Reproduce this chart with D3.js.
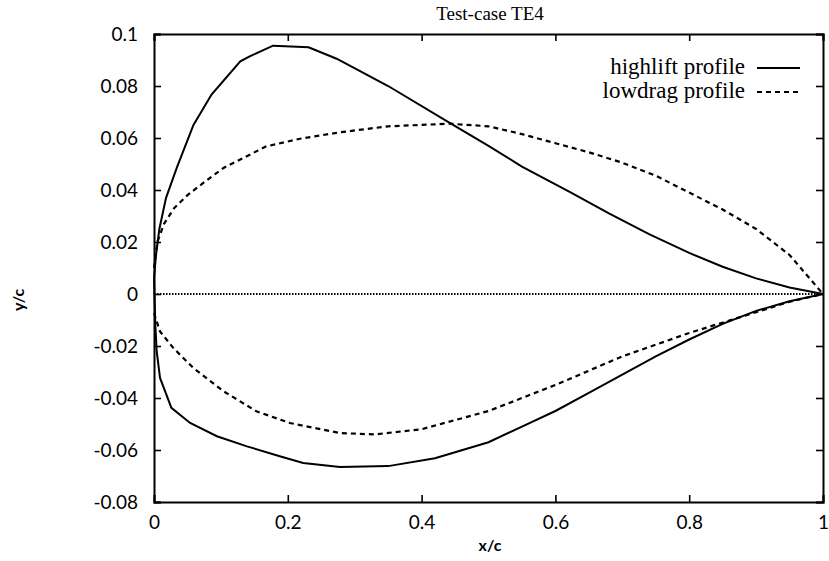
<!DOCTYPE html>
<html><head><meta charset="utf-8">
<script src="https://cdn.jsdelivr.net/npm/d3@7"></script>
<style>body{margin:0;background:#fff}svg{display:block}</style>
</head><body>
<svg id="c" width="829" height="561"></svg>
<script>
const title = "Test-case TE4";
const xTicks = [0, 0.2, 0.4, 0.6, 0.8, 1];
const yTicks = [0.1, 0.08, 0.06, 0.04, 0.02, 0, -0.02, -0.04, -0.06, -0.08];
const seriesNames = ["highlift profile", "lowdrag profile"];

const highliftUpper = [[0,0.006],[0.003,0.015],[0.008,0.025],[0.018,0.037],[0.034,0.0485],[0.059,0.065],[0.086,0.0767],[0.129,0.0895],[0.143,0.0914],[0.178,0.0955],[0.231,0.0949],[0.273,0.0905],[0.35,0.080],[0.442,0.0658],[0.5,0.057],[0.55,0.049],[0.622,0.0392],[0.68,0.031],[0.74,0.023],[0.8,0.0158],[0.85,0.0105],[0.9,0.006],[0.95,0.0025],[1,0]];
const highliftLower = [[0,0.006],[0.002,-0.012],[0.004,-0.022],[0.009,-0.0323],[0.026,-0.0438],[0.054,-0.0496],[0.094,-0.0547],[0.139,-0.0586],[0.188,-0.0624],[0.223,-0.065],[0.278,-0.0665],[0.35,-0.0662],[0.42,-0.0632],[0.5,-0.057],[0.55,-0.051],[0.6,-0.045],[0.65,-0.038],[0.7,-0.031],[0.75,-0.024],[0.8,-0.0175],[0.85,-0.0115],[0.9,-0.0065],[0.95,-0.0028],[1,0]];
const lowdragUpper = [[0,0.01],[0.005,0.02],[0.015,0.027],[0.03,0.033],[0.05,0.038],[0.075,0.043],[0.104,0.0485],[0.168,0.0568],[0.22,0.0598],[0.278,0.0622],[0.35,0.0645],[0.442,0.0655],[0.5,0.0645],[0.55,0.0615],[0.6,0.058],[0.65,0.0545],[0.7,0.0505],[0.75,0.0455],[0.8,0.039],[0.85,0.0325],[0.9,0.025],[0.95,0.015],[1,0]];
const lowdragLower = [[0,-0.0073],[0.009,-0.0144],[0.029,-0.0208],[0.059,-0.0285],[0.104,-0.0374],[0.153,-0.0451],[0.203,-0.0496],[0.278,-0.0535],[0.33,-0.054],[0.4,-0.052],[0.5,-0.045],[0.6,-0.035],[0.7,-0.024],[0.8,-0.015],[0.9,-0.007],[0.95,-0.003],[1,0]];
const zeroLine = [[0,0],[1,0]];

const svg = d3.select("#c");
const L = 154, R = 823, T = 34, B = 502;
const x = d3.scaleLinear().domain([0,1]).range([L,R]);
const y = d3.scaleLinear().domain([-0.08,0.1]).range([B,T]);
const fmt = d => String(+d.toFixed(2));
const tickFont = "'Lato', 'Open Sans', sans-serif";
const serif = "'Liberation Serif', 'DejaVu Serif', serif";

// axes (gnuplot-style inward ticks on all sides)
const axB = svg.append("g").attr("transform",`translate(0,${B})`)
  .call(d3.axisBottom(x).tickValues(xTicks).tickSize(-7).tickPadding(14).tickFormat(fmt));
const axT = svg.append("g").attr("transform",`translate(0,${T})`)
  .call(d3.axisTop(x).tickValues(xTicks).tickSize(-7).tickFormat(""));
const axL = svg.append("g").attr("transform",`translate(${L},0)`)
  .call(d3.axisLeft(y).tickValues(yTicks).tickSize(-7).tickPadding(16).tickFormat(fmt));
const axR = svg.append("g").attr("transform",`translate(${R},0)`)
  .call(d3.axisRight(y).tickValues(yTicks).tickSize(-7).tickFormat(""));
[axB,axT,axL,axR].forEach(g=>{
  g.selectAll(".domain").attr("stroke","#000").attr("stroke-width",2);
  g.selectAll(".tick line").attr("stroke","#000").attr("stroke-width",1.6);
  g.selectAll("text").attr("font-family",tickFont).attr("font-size",19).attr("fill","#000");
});

const line = d3.line().x(d=>x(d[0])).y(d=>y(d[1]));
const g = svg.append("g").attr("fill","none").attr("stroke","#000");
g.append("path").datum(zeroLine).attr("d",line).attr("stroke-width",1.8).attr("stroke-dasharray","1.5,1.5");
g.append("path").datum(highliftUpper).attr("d",line).attr("stroke-width",2);
g.append("path").datum(highliftLower).attr("d",line).attr("stroke-width",2);
g.append("path").datum(lowdragUpper).attr("d",line).attr("stroke-width",2.2).attr("stroke-dasharray","5,4");
g.append("path").datum(lowdragLower).attr("d",line).attr("stroke-width",2.2).attr("stroke-dasharray","5,4");

// title & labels
svg.append("text").attr("x",490).attr("y",20).attr("text-anchor","middle")
  .attr("font-family",serif).attr("font-size",19).text(title);
svg.append("text").attr("x",490).attr("y",551).attr("text-anchor","middle")
  .attr("font-family",tickFont).attr("font-weight","bold").attr("font-size",16).text("x/c");
svg.append("text").attr("transform","translate(24,300) rotate(-90)").attr("text-anchor","middle")
  .attr("font-family",tickFont).attr("font-weight","bold").attr("font-size",16).text("y/c");

// legend
const leg = svg.append("g");
seriesNames.forEach((n,i)=>{
  const yy = 68 + i*24;
  leg.append("text").attr("x",745).attr("y",yy+6).attr("text-anchor","end")
    .attr("font-family",serif).attr("font-size",23).text(n);
  leg.append("line").attr("x1",757).attr("x2",800).attr("y1",yy).attr("y2",yy)
    .attr("stroke","#000").attr("stroke-width",2)
    .attr("stroke-dasharray", i===1 ? "5,4" : null);
});
</script>
</body></html>
